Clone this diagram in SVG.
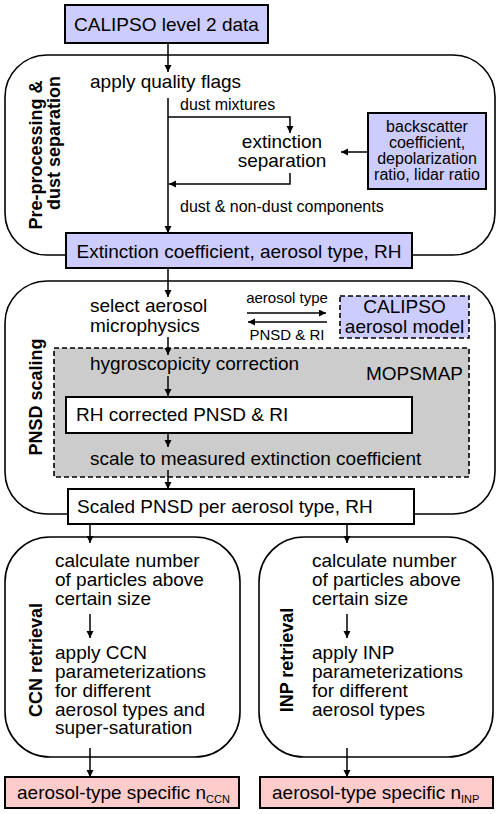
<svg xmlns="http://www.w3.org/2000/svg" width="500" height="814" viewBox="0 0 500 814">
<defs>
<marker id="ah" markerWidth="8" markerHeight="8" refX="7" refY="3.5" orient="auto" markerUnits="userSpaceOnUse"><path d="M0,0 L7,3.5 L0,7 Z" fill="#000"/></marker>
<style>
text{font-family:"Liberation Sans",Arial,sans-serif;fill:#000}
.t{font-size:19px}
.s{font-size:16px}
.xs{font-size:15px}
.v{font-size:18px;font-weight:bold}
.sec{fill:#fff;stroke:#000;stroke-width:1.6}
.pur{fill:#ccccff;stroke:#000;stroke-width:2}
.pink{fill:#ffcccc;stroke:#000;stroke-width:2}
.wb{fill:#fff;stroke:#000;stroke-width:2}
.dash{stroke:#000;stroke-width:1.6;stroke-dasharray:5,3}
.ln{fill:none;stroke:#000;stroke-width:1.5}
.ar{fill:none;stroke:#000;stroke-width:1.5;marker-end:url(#ah)}
</style>
</defs>
<g id="sections">
<rect class="sec" x="5" y="55" width="490" height="200" rx="42"/>
<rect class="sec" x="5" y="281" width="490" height="233" rx="42"/>
<rect class="sec" x="5" y="537" width="235" height="220" rx="45"/>
<rect class="sec" x="259" y="537" width="234" height="220" rx="45"/>
</g>
<g id="labels">
<text class="v" text-anchor="middle" transform="translate(42,155) rotate(-90)">Pre-processing &amp;</text>
<text class="v" text-anchor="middle" transform="translate(60,143) rotate(-90)">dust separation</text>
<text class="v" text-anchor="middle" transform="translate(42,397) rotate(-90)">PNSD scaling</text>
<text class="v" text-anchor="middle" transform="translate(42,660) rotate(-90)">CCN retrieval</text>
<text class="v" text-anchor="middle" transform="translate(293,660) rotate(-90)">INP retrieval</text>
</g>
<g id="mopsmap">
<rect class="dash" fill="#cccccc" x="54" y="348" width="415" height="129"/>
<text class="t" x="463" y="380" text-anchor="end">MOPSMAP</text>
</g>
<g id="connectors">
<line class="ar" x1="168" y1="43" x2="168" y2="72"/>
<line class="ar" x1="168" y1="98" x2="168" y2="233"/>
<polyline class="ar" points="168,117 290,117 290,133"/>
<polyline class="ar" points="290,173 290,184 169,184"/>
<line class="ar" x1="368" y1="152" x2="341" y2="152"/>
<line class="ar" x1="168" y1="268" x2="168" y2="297"/>
<line class="ar" x1="247" y1="313" x2="326" y2="313"/>
<line class="ar" x1="327" y1="322" x2="248" y2="322"/>
<line class="ar" x1="168" y1="337" x2="168" y2="355"/>
<line class="ar" x1="168" y1="376" x2="168" y2="396"/>
<line class="ar" x1="168" y1="433" x2="168" y2="447"/>
<line class="ar" x1="168" y1="470" x2="168" y2="489"/>
<line class="ar" x1="90" y1="524" x2="90" y2="543"/>
<line class="ar" x1="347" y1="524" x2="347" y2="543"/>
<line class="ar" x1="90" y1="614" x2="90" y2="638"/>
<line class="ar" x1="347" y1="614" x2="347" y2="638"/>
<line class="ar" x1="90" y1="748" x2="90" y2="777"/>
<line class="ar" x1="347" y1="748" x2="347" y2="777"/>
</g>
<g id="calipso-l2">
<rect class="pur" x="65" y="5" width="203" height="38"/>
<text class="t" x="166.5" y="31" text-anchor="middle">CALIPSO level 2 data</text>
</g>
<g id="quality">
<text class="t" x="90" y="88">apply quality flags</text>
<text class="s" x="180" y="110">dust mixtures</text>
</g>
<g id="extsep">
<text class="t" x="282" y="148" text-anchor="middle">extinction</text>
<text class="t" x="282" y="167" text-anchor="middle">separation</text>
</g>
<g id="lidar">
<rect class="pur" x="368" y="113" width="118" height="76"/>
<text class="s" text-anchor="middle"><tspan x="427" y="132">backscatter</tspan><tspan x="427" y="148">coefficient,</tspan><tspan x="427" y="164">depolarization</tspan><tspan x="427" y="180">ratio, lidar ratio</tspan></text>
</g>
<text class="s" x="180" y="212">dust &amp; non-dust components</text>
<g id="extcoef">
<rect class="pur" x="66" y="233" width="346" height="35"/>
<text class="t" x="239" y="258" text-anchor="middle">Extinction coefficient, aerosol type, RH</text>
</g>
<g id="select">
<text class="t" x="90" y="312">select aerosol</text>
<text class="t" x="90" y="332">microphysics</text>
<text class="xs" x="287" y="303" text-anchor="middle">aerosol type</text>
<text class="xs" x="287" y="340" text-anchor="middle">PNSD &amp; RI</text>
</g>
<g id="calipso-model">
<rect class="dash" fill="#ccccff" x="340" y="296" width="129" height="42"/>
<text class="t" x="404.5" y="313" text-anchor="middle">CALIPSO</text>
<text class="t" x="404.5" y="333" text-anchor="middle">aerosol model</text>
</g>
<text class="t" x="90" y="370">hygroscopicity correction</text>
<g id="rhcorr">
<rect class="wb" x="66" y="397" width="346" height="36"/>
<text class="t" x="76" y="421">RH corrected PNSD &amp; RI</text>
</g>
<text class="t" x="90" y="465">scale to measured extinction coefficient</text>
<g id="scaled">
<rect class="wb" x="68" y="489" width="346" height="35"/>
<text class="t" x="77" y="513">Scaled PNSD per aerosol type, RH</text>
</g>
<g id="ccn">
<text class="t"><tspan x="55" y="567">calculate number</tspan><tspan x="55" y="586">of particles above</tspan><tspan x="55" y="605">certain size</tspan></text>
<text class="t"><tspan x="55" y="659">apply CCN</tspan><tspan x="55" y="678">parameterizations</tspan><tspan x="55" y="697">for different</tspan><tspan x="55" y="715.5">aerosol types and</tspan><tspan x="55" y="734">super-saturation</tspan></text>
</g>
<g id="inp">
<text class="t"><tspan x="312" y="567">calculate number</tspan><tspan x="312" y="586">of particles above</tspan><tspan x="312" y="605">certain size</tspan></text>
<text class="t"><tspan x="312" y="659">apply INP</tspan><tspan x="312" y="678">parameterizations</tspan><tspan x="312" y="697">for different</tspan><tspan x="312" y="715.5">aerosol types</tspan></text>
</g>
<g id="nccn">
<rect class="pink" x="5" y="777" width="234" height="31"/>
<text class="t" x="17" y="799">aerosol-type specific n<tspan font-size="11" dy="4">CCN</tspan></text>
</g>
<g id="ninp">
<rect class="pink" x="260" y="777" width="233" height="31"/>
<text class="t" x="272" y="799">aerosol-type specific n<tspan font-size="11" dy="4">INP</tspan></text>
</g>
</svg>
